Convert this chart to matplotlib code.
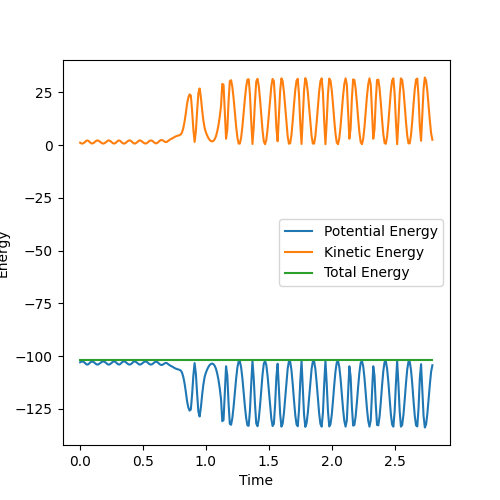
import numpy as np
import matplotlib
matplotlib.use("Agg")
import matplotlib.pyplot as plt

# Sampling step of the simulation (time units)
time_step = 0.01

kinetic = [
    1.1, 0.75, 0.7, 1.0, 1.5, 2.1, 2.15, 1.8, 1.2, 0.75,
    0.8, 1.1, 1.6, 2.1, 2.2, 1.9, 1.5, 1.0, 0.7, 0.8,
    1.1, 1.6, 2.1, 2.2, 1.9, 1.4, 0.9, 0.7, 0.9, 1.4,
    2.0, 2.2, 1.9, 1.3, 0.8, 0.7, 0.9, 1.4, 1.9, 2.2,
    2.1, 1.7, 1.1, 0.7, 0.8, 1.2, 1.7, 2.2, 2.1, 1.8,
    1.3, 0.9, 0.7, 0.9, 1.4, 1.9, 2.2, 2.1, 1.7, 1.2,
    0.8, 0.9, 1.3, 1.9, 2.3, 2.4, 2.1, 1.7, 1.4, 1.5,
    2.0, 2.4, 2.8, 3.1, 3.4, 3.8, 4.1, 4.3, 4.5, 4.7,
    5.0, 6.0, 8.0, 11.0, 15.0, 19.5, 22.5, 24.0, 23.5, 16.5,
    7.5, 1.5, 6.5, 16.0, 24.5, 26.8, 22.5, 16.5, 11.5, 8.0,
    6.0, 4.5, 3.3, 2.4, 1.9, 1.7, 2.0, 2.8, 4.2, 6.5,
    9.5, 13.5, 18.5, 29.0, 28.5, 15.7, 3.0, 7.3, 20.7, 30.3,
    30.7, 27.6, 22.1, 15.5, 8.9, 3.6, 0.7, 0.7, 3.6, 8.8,
    15.3, 22.1, 27.6, 31.0, 31.2, 23.8, 11.4, 0.5, 8.7, 20.9,
    30.1, 31.4, 28.0, 21.7, 14.0, 6.9, 1.8, 0.4, 2.4, 7.5,
    14.5, 21.8, 27.9, 31.3, 30.3, 21.0, 8.1, 1.8, 13.3, 25.6,
    31.6, 30.2, 25.2, 18.0, 10.3, 4.0, 0.6, 0.9, 4.9, 11.5,
    19.1, 26.0, 30.5, 31.4, 23.6, 10.1, 0.5, 13.0, 26.0, 31.7,
    30.0, 25.0, 17.9, 10.4, 4.2, 0.7, 0.7, 4.3, 10.7, 18.3,
    25.4, 30.3, 31.6, 25.0, 11.4, 0.4, 11.1, 24.1, 31.5, 30.5,
    26.1, 19.3, 11.8, 5.3, 1.2, 0.4, 3.2, 8.8, 16.0, 23.3,
    28.9, 31.6, 28.6, 16.2, 3.0, 7.8, 21.9, 31.1, 30.8, 26.7,
    20.1, 12.6, 5.9, 1.4, 0.4, 2.9, 8.4, 15.6, 23.1, 28.8,
    31.6, 28.6, 16.2, 3.0, 7.5, 21.1, 30.8, 31.0, 26.9, 20.0,
    12.1, 5.2, 1.0, 0.6, 4.1, 10.5, 18.4, 25.7, 30.6, 31.6,
    24.3, 11.3, 0.4, 11.3, 24.3, 31.6, 30.8, 26.0, 18.9, 11.1,
    4.5, 0.8, 0.8, 4.7, 11.3, 19.3, 26.5, 31.0, 31.5, 22.8,
    8.8, 2.0, 13.8, 26.6, 32.0, 30.5, 25.5, 18.5, 11.5, 5.5,
    2.5,
]

potential = [
    -102.9, -102.6, -102.5, -102.8, -103.3, -103.9, -104.0, -103.6, -103.0, -102.6,
    -102.6, -102.9, -103.4, -103.9, -104.0, -103.7, -103.3, -102.8, -102.5, -102.6,
    -102.9, -103.4, -103.9, -104.0, -103.7, -103.2, -102.7, -102.5, -102.7, -103.2,
    -103.8, -104.0, -103.7, -103.1, -102.6, -102.5, -102.7, -103.2, -103.7, -104.0,
    -103.9, -103.5, -102.9, -102.5, -102.6, -103.0, -103.5, -104.0, -103.9, -103.6,
    -103.1, -102.7, -102.5, -102.7, -103.2, -103.7, -104.0, -103.9, -103.5, -103.0,
    -102.6, -102.7, -103.1, -103.7, -104.1, -104.2, -103.9, -103.5, -103.2, -103.3,
    -103.8, -104.2, -104.6, -104.9, -105.2, -105.6, -105.9, -106.1, -106.3, -106.5,
    -106.8, -107.8, -109.8, -112.8, -116.8, -121.3, -124.3, -125.8, -125.3, -118.3,
    -109.3, -103.3, -108.3, -117.8, -126.3, -128.6, -124.3, -118.3, -113.3, -109.8,
    -107.8, -106.3, -105.1, -104.2, -103.7, -103.5, -103.8, -104.6, -106.0, -108.3,
    -111.3, -115.3, -120.3, -130.8, -130.3, -117.5, -104.8, -109.1, -122.5, -132.1,
    -132.5, -129.4, -123.9, -117.3, -110.7, -105.4, -102.5, -102.5, -105.4, -110.6,
    -117.1, -123.9, -129.4, -132.8, -133.0, -125.6, -113.2, -102.3, -110.5, -122.7,
    -131.9, -133.2, -129.8, -123.5, -115.8, -108.7, -103.6, -102.2, -104.2, -109.3,
    -116.3, -123.6, -129.7, -133.1, -132.1, -122.8, -109.9, -103.6, -115.1, -127.4,
    -133.4, -132.0, -127.0, -119.8, -112.1, -105.8, -102.4, -102.7, -106.7, -113.3,
    -120.9, -127.8, -132.3, -133.2, -125.4, -111.9, -102.3, -114.8, -127.8, -133.5,
    -131.8, -126.8, -119.7, -112.2, -106.0, -102.5, -102.5, -106.1, -112.5, -120.1,
    -127.2, -132.1, -133.4, -126.8, -113.2, -102.2, -112.9, -125.9, -133.3, -132.3,
    -127.9, -121.1, -113.6, -107.1, -103.0, -102.2, -105.0, -110.6, -117.8, -125.1,
    -130.7, -133.4, -130.4, -118.0, -104.8, -109.6, -123.7, -132.9, -132.6, -128.5,
    -121.9, -114.4, -107.7, -103.2, -102.2, -104.7, -110.2, -117.4, -124.9, -130.6,
    -133.4, -130.4, -118.0, -104.8, -109.3, -122.9, -132.6, -132.8, -128.7, -121.8,
    -113.9, -107.0, -102.8, -102.4, -105.9, -112.3, -120.2, -127.5, -132.4, -133.4,
    -126.1, -113.1, -102.2, -113.1, -126.1, -133.4, -132.6, -127.8, -120.7, -112.9,
    -106.3, -102.6, -102.6, -106.5, -113.1, -121.1, -128.3, -132.8, -133.3, -124.6,
    -110.6, -103.8, -115.6, -128.4, -133.8, -132.3, -127.3, -120.3, -113.3, -107.3,
    -104.3,
]

total_times = [0.0, 0.7, 1.4, 2.1, 2.8]
total = [-101.8, -101.8, -101.8, -101.8, -101.8]

time = np.arange(len(kinetic)) * time_step

fig, ax = plt.subplots(figsize=(5, 5), dpi=100)
ax.plot(time, potential, label="Potential Energy")
ax.plot(time, kinetic, label="Kinetic Energy")
ax.plot(total_times, total, label="Total Energy")
ax.set_xlabel("Time")
ax.set_ylabel("Energy")
ax.legend(loc="center right")
fig.savefig("out.png", dpi=100)
